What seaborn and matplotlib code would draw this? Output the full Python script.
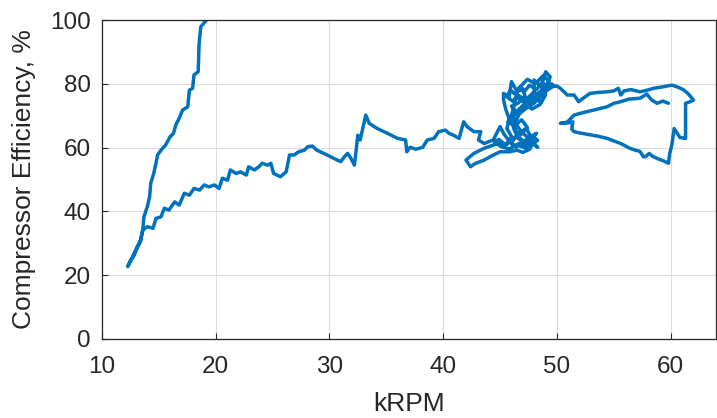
import numpy as np
import pandas as pd
import matplotlib
matplotlib.use("Agg")
import matplotlib.pyplot as plt
import seaborn as sns

# compressor map trace (kRPM vs efficiency)
# steep branch, from the top down to the start point
krpm_a = [19.2, 18.7, 18.55, 18.47, 18.1, 17.98, 17.7, 17.55, 17.1, 16.8, 16.5,
          16.3, 16.0, 15.6, 15.2, 14.9, 14.76, 14.56, 14.3, 14.2, 14.0, 13.7,
          13.6, 13.4, 13.1, 12.86, 12.57, 12.28, 12.5, 12.8, 13.1, 13.4, 13.6]
eff_a = [100, 97.9, 92.7, 83.8, 82.8, 78.6, 78.0, 72.8, 71.8, 69.2, 67.1,
         64.5, 63.4, 60.8, 59.2, 57.7, 55.1, 51.9, 48.8, 44.6, 41.5, 38.3,
         34.2, 31.0, 28.9, 26.9, 24.8, 22.7, 24.5, 26.0, 28.5, 30.5, 34.2]

# lower branch out to the cluster
krpm_b = [14.0, 14.5, 14.76, 15.2, 15.5, 15.9, 16.4, 16.8, 17.25, 17.7, 18.1,
          18.6, 19.0, 19.4, 19.9, 20.3, 20.6, 21.05, 21.3, 21.8, 22.2, 22.7,
          22.9, 23.4, 23.8, 24.1, 24.6, 24.85, 25.1, 25.7, 26.2, 26.5, 26.9,
          27.3, 27.8, 28.1, 28.5, 28.9, 29.8, 30.4, 31.0, 31.3, 31.6, 31.9,
          32.2, 32.3, 32.5, 32.7, 32.9, 33.2, 33.5, 34.2, 35.1, 36.0, 36.7,
          36.8, 37.1, 37.6, 38.2, 38.6, 39.2, 39.6, 40.2, 40.5, 40.9, 41.4,
          41.8, 42.1, 42.7, 43.3, 43.1, 43.6, 44.4]
eff_b = [35.2, 34.7, 37.8, 38.3, 41.0, 40.4, 43.0, 42.0, 45.7, 45.1, 47.2,
         46.7, 48.3, 47.7, 48.3, 47.2, 50.4, 49.8, 53.0, 51.9, 52.4, 51.4,
         54.0, 53.0, 54.0, 55.1, 54.5, 55.1, 51.9, 50.9, 52.4, 57.7, 57.7,
         58.7, 59.2, 60.3, 60.5, 59.2, 57.7, 56.6, 55.6, 57.1, 58.2, 56.6,
         54.5, 57.7, 63.9, 62.4, 65.5, 70.2, 67.6, 66.0, 64.5, 62.9, 62.4,
         58.7, 60.1, 59.5, 60.1, 62.4, 62.9, 65.0, 65.5, 64.5, 63.9, 62.9,
         68.1, 66.6, 65.0, 65.0, 62.4, 61.3, 62.4]

# scribble around 45-50 kRPM, with the lower spur
krpm_c = [45.0, 45.3, 45.8, 46.2, 46.8, 47.4, 48.0, 47.6, 47.0, 46.5, 45.8,
          45.0, 44.3, 43.6, 42.8, 42.4, 42.0, 42.7, 43.6, 44.8, 45.6, 46.0,
          45.6, 45.8, 45.5, 45.3, 45.3, 45.8, 46.0, 46.5, 47.0, 47.2, 46.6,
          46.0, 46.5, 47.2, 47.8, 48.0, 48.0, 48.6, 49.0, 49.4, 49.1, 48.5,
          47.7, 47.0, 46.4, 46.0, 46.6, 46.3, 46.8, 47.3, 47.7, 48.2, 47.5,
          46.6, 46.2, 46.0, 46.8, 47.6, 48.3, 48.8, 49.5, 49.7]
eff_c = [66.6, 64.5, 62.0, 60.5, 61.5, 60.2, 62.0, 59.5, 58.5, 59.2, 58.7,
         58.7, 57.5, 56.1, 55.0, 54.0, 56.1, 58.2, 59.8, 61.3, 61.0, 63.5,
         66.0, 69.0, 72.0, 75.0, 77.0, 76.0, 80.7, 77.5, 78.5, 76.0, 74.0,
         73.0, 71.0, 72.5, 74.0, 76.5, 81.2, 79.0, 83.8, 82.2, 79.5, 77.5,
         75.5, 74.5, 75.8, 70.0, 68.0, 65.5, 64.0, 66.0, 63.5, 64.5, 61.5,
         62.8, 66.0, 69.5, 71.5, 73.0, 75.0, 77.5, 80.0, 79.6]

# second pass through the blob (the trace doubles back many times)
krpm_c2 = [49.2, 48.7, 48.2, 47.6, 47.1, 46.7, 46.3, 45.9, 45.6, 46.1, 46.6,
           47.3, 47.9, 48.4, 48.9, 49.3, 48.8, 48.1, 47.4, 46.8, 46.4, 46.9,
           47.5, 48.0, 48.6, 49.0, 48.5, 47.8, 47.2, 46.6, 46.1, 45.7, 46.2,
           46.9, 47.4, 46.8, 46.3, 46.0, 46.4, 47.0, 47.6, 48.3, 47.8, 47.1,
           46.5, 45.9, 45.4, 44.9, 44.5, 45.1, 45.8, 46.5, 47.2, 47.9, 48.3,
           47.6, 46.9, 46.3, 46.7, 47.3, 48.0, 48.6, 49.1, 49.6, 50.0]
eff_c2 = [78.8, 80.5, 78.2, 79.6, 77.4, 78.9, 76.8, 78.1, 75.9, 74.6, 76.3,
          75.1, 77.2, 76.0, 78.4, 80.9, 82.6, 80.1, 81.4, 79.2, 77.0, 75.3,
          73.8, 75.6, 74.2, 76.7, 73.5, 72.1, 73.9, 71.8, 70.4, 68.2, 66.9,
          68.7, 66.3, 64.8, 63.2, 61.4, 60.2, 61.9, 60.4, 62.3, 63.7, 62.0,
          63.5, 62.1, 61.0, 62.6, 61.8, 60.3, 59.6, 60.8, 59.9, 61.2, 60.1,
          62.7, 64.9, 67.8, 70.6, 72.4, 74.1, 76.3, 77.9, 79.1, 79.3]

# upper run to 62 kRPM, the loop back and the return
krpm_d = [50.3, 50.9, 51.5, 51.9, 52.3, 52.9, 53.6, 54.4, 55.0, 55.4, 55.6,
          55.9, 56.5, 57.3, 57.9, 58.5, 59.2, 60.1, 60.6, 61.1, 61.5, 62.0,
          61.7, 61.3, 61.3, 61.3, 60.8, 60.3, 60.1, 59.9, 59.8, 59.4, 58.8,
          58.4, 58.1, 57.8, 57.6, 57.3, 56.9, 56.4, 55.6, 55.0, 54.4, 53.6,
          52.8, 52.0, 51.5, 51.3, 51.4, 51.3, 50.8, 50.3, 50.9, 51.5, 52.2,
          52.9, 53.8, 54.4, 55.0, 55.6, 56.3, 57.3, 57.9, 58.3, 58.8, 59.3,
          59.8]
eff_d = [78.6, 76.5, 76.5, 74.4, 75.5, 77.0, 77.3, 77.5, 77.8, 78.6, 76.5,
         77.8, 78.2, 77.5, 78.0, 78.6, 79.0, 79.6, 79.0, 78.2, 77.0, 74.9,
         74.4, 73.9, 68.0, 62.9, 63.2, 66.0, 61.0, 58.0, 55.1, 55.8, 56.6,
         57.3, 58.2, 57.2, 57.1, 58.8, 59.2, 59.8, 61.3, 62.1, 62.9, 63.6,
         64.1, 64.6, 65.0, 65.8, 68.1, 67.9, 67.7, 67.6, 68.0, 70.2, 70.9,
         71.5, 72.3, 72.8, 73.9, 74.4, 75.2, 75.5, 76.8, 75.0, 73.9, 74.6,
         73.9]

krpm = krpm_a + krpm_b + krpm_c + krpm_c2 + krpm_d
eff = eff_a + eff_b + eff_c + eff_c2 + eff_d
df = pd.DataFrame({"kRPM": krpm, "eff": eff})

sns.set_style("whitegrid")
plt.rcParams["font.family"] = ["Liberation Sans", "DejaVu Sans"]

fig = plt.figure(figsize=(7.17, 4.18), dpi=100)
ax = fig.add_axes([0.142, 0.189, 0.857, 0.763])

sns.lineplot(data=df, x="kRPM", y="eff", sort=False, estimator=None,
             color="#0072BD", linewidth=2.5, ax=ax)

ax.set_xlim(10, 64)
ax.set_ylim(0, 100)
ax.set_xticks([10, 20, 30, 40, 50, 60])
ax.set_yticks([0, 20, 40, 60, 80, 100])
ax.grid(True, color="#dcdcdc", linewidth=0.8)
for s in ax.spines.values():
    s.set_color("#262626")
    s.set_linewidth(0.9)
    s.set_visible(True)
ax.tick_params(direction="in", length=4, color="#262626", labelsize=17.5,
               labelcolor="#262626", bottom=True, left=True)
ax.tick_params(axis="x", pad=12)
ax.tick_params(axis="y", pad=8)
ax.set_xlabel("kRPM", fontsize=19, color="#262626", labelpad=10)
ax.set_ylabel("Compressor Efficiency, %", fontsize=19, color="#262626", labelpad=10)

fig.savefig("out.png", dpi=100)
